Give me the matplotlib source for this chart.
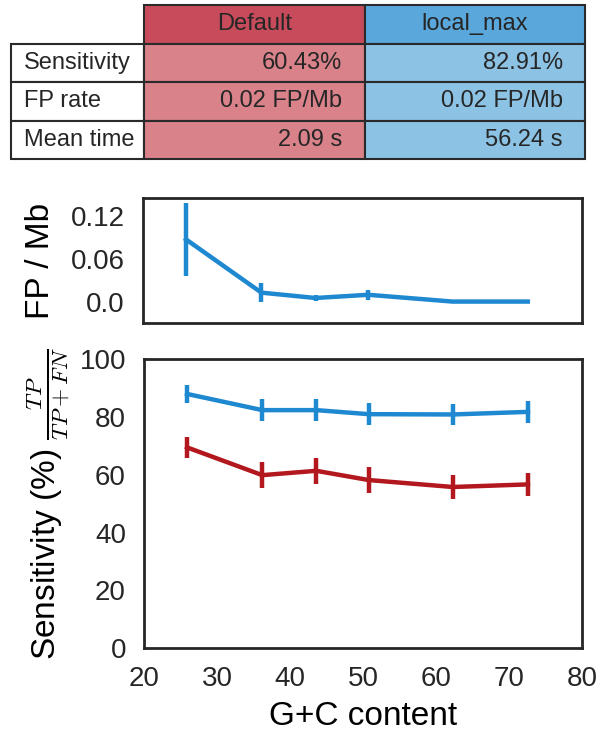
import matplotlib
matplotlib.use("Agg")
import matplotlib.pyplot as plt

plt.rcParams["font.family"] = ["Liberation Sans", "DejaVu Sans"]
plt.rcParams["mathtext.fontset"] = "cm"
plt.rcParams["text.color"] = "#262626"

# summary table
row_labels = ["Sensitivity", "FP rate", "Mean time"]
col_labels = ["Default", "local_max"]
default_vals = ["60.43%", "0.02 FP/Mb", "2.09 s"]
local_vals = ["82.91%", "0.02 FP/Mb", "56.24 s"]

# per G+C bin results
gc = [25.9, 36.2, 43.6, 50.8, 62.3, 72.6]
fp_local = [0.087, 0.0125, 0.005, 0.0095, 0.0, 0.0]
fp_local_err = [0.051, 0.013, 0.004, 0.007, 0.0, 0.0]
sens_local = [88.0, 82.4, 82.4, 81.0, 80.9, 81.8]
sens_local_err = [3.0, 3.8, 3.8, 3.9, 3.5, 3.75]
sens_default = [69.5, 59.9, 61.4, 58.2, 55.8, 56.7]
sens_default_err = [3.6, 4.4, 4.4, 4.4, 4.3, 4.1]

BLUE = "#1e88d0"
RED = "#b2181e"
DARK = "#262626"
header_colors = {"Default": "#c84b5b", "local_max": "#5aa7dc"}
cell_colors = {"Default": "#d9828a", "local_max": "#8cc2e4"}

fig = plt.figure(figsize=(6, 7.4), dpi=100)

# --- table ---
ax_t = fig.add_axes([0.018, 0.785, 0.957, 0.208])
ax_t.axis("off")
cell_text = [[r, d, l] for r, d, l in zip(row_labels, default_vals, local_vals)]
tbl = ax_t.table(cellText=cell_text, colLabels=[""] + col_labels,
                 cellLoc="right", colLoc="center",
                 colWidths=[133, 220, 220], bbox=[0, 0, 1, 1])
tbl.auto_set_font_size(False)
tbl.set_fontsize(17)
for (r, c), cell in tbl.get_celld().items():
    cell.set_edgecolor("#2a2a2a")
    cell.set_linewidth(1.5)
    cell.get_text().set_color(DARK)
    if r == 0 and c == 0:
        cell.visible_edges = ""
        cell.set_facecolor("none")
    elif r == 0:
        cell.set_facecolor(header_colors[col_labels[c - 1]])
    elif c == 0:
        cell.set_facecolor("white")
        cell.get_text().set_horizontalalignment("left")
    else:
        cell.set_facecolor(cell_colors[col_labels[c - 1]])

# --- FP rate panel ---
ax_fp = fig.add_axes([0.238, 0.5635, 0.732, 0.169])
ax_fp.errorbar(gc, fp_local, yerr=fp_local_err, color=BLUE, lw=3.2,
               elinewidth=3.2, capsize=0)
ax_fp.set_xlim(20, 80)
ax_fp.set_ylim(-0.03, 0.145)
ax_fp.set_xticks([])
ax_fp.set_yticks([0.0, 0.06, 0.12])
ax_fp.set_yticklabels(["0.0", "0.06", "0.12"])
ax_fp.set_ylabel("FP / Mb", fontsize=24)
ax_fp.yaxis.set_label_coords(-0.198, 0.5)

# --- sensitivity panel ---
ax_s = fig.add_axes([0.24, 0.124, 0.73, 0.3905])
ax_s.errorbar(gc, sens_local, yerr=sens_local_err, color=BLUE, lw=3.2,
              elinewidth=3.2, capsize=0)
ax_s.errorbar(gc, sens_default, yerr=sens_default_err, color=RED, lw=3.2,
              elinewidth=3.2, capsize=0)
ax_s.set_xlim(20, 80)
ax_s.set_ylim(0, 100)
ax_s.set_xticks(range(20, 81, 10))
ax_s.set_yticks(range(0, 101, 20))
ax_s.set_xlabel("G+C content", fontsize=24, labelpad=6)
ax_s.set_ylabel(r"Sensitivity (%) $\frac{TP}{TP+FN}$", fontsize=24)
ax_s.yaxis.set_label_coords(-0.165, 0.5)

for ax in (ax_fp, ax_s):
    for sp in ax.spines.values():
        sp.set_color(DARK)
        sp.set_linewidth(2)
    ax.tick_params(length=0, labelsize=20, pad=13, colors=DARK)

fig.savefig("out.png", dpi=100)
